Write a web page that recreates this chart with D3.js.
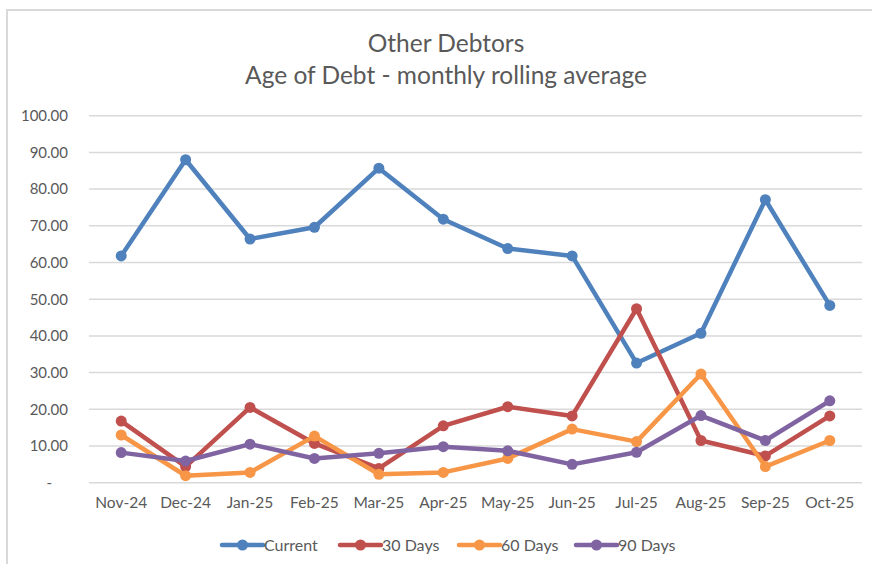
<!DOCTYPE html>
<html>
<head>
<meta charset="utf-8">
<script src="https://cdn.jsdelivr.net/npm/d3@7"></script>
<style>
    body { margin: 0; background: white; }
    svg { display: block; }
    text { font-family: Lato, "Open Sans", sans-serif; fill: #595959; }
</style>
</head>
<body>
<svg width="872" height="564"></svg>
<script>
var months = ["Nov-24", "Dec-24", "Jan-25", "Feb-25", "Mar-25", "Apr-25",
              "May-25", "Jun-25", "Jul-25", "Aug-25", "Sep-25", "Oct-25"];

var current = [61.8, 88.0, 66.4, 69.6, 85.7, 71.8, 63.8, 61.8, 32.6, 40.7, 77.1, 48.3];
var days30 = [16.8, 4.4, 20.5, 10.7, 3.9, 15.5, 20.7, 18.2, 47.4, 11.5, 7.3, 18.2];
var days60 = [13.0, 1.9, 2.8, 12.7, 2.3, 2.8, 6.6, 14.6, 11.2, 29.6, 4.4, 11.5];
var days90 = [8.2, 5.9, 10.5, 6.6, 8.0, 9.8, 8.7, 5.0, 8.3, 18.3, 11.5, 22.3];

var seriesNames = ["Current", "30 Days", "60 Days", "90 Days"];
var seriesColors = ["#4f81bd", "#c0504d", "#f79646", "#8064a2"];
var yTicks = [0, 10, 20, 30, 40, 50, 60, 70, 80, 90, 100];

var series = [current, days30, days60, days90];

var svg = d3.select("svg");

// Chart border (runs off the right and bottom of the picture)
svg.append("rect")
    .attr("x", 7)
    .attr("y", 10)
    .attr("width", 900)
    .attr("height", 600)
    .attr("fill", "none")
    .attr("stroke", "#d9d9d9")
    .attr("stroke-width", 2);

// Title
svg.append("text")
    .attr("x", 446)
    .attr("y", 52)
    .attr("text-anchor", "middle")
    .style("font-size", "24.5px")
    .text("Other Debtors");

svg.append("text")
    .attr("x", 446)
    .attr("y", 84)
    .attr("text-anchor", "middle")
    .style("font-size", "24.5px")
    .text("Age of Debt - monthly rolling average");

var xScale = d3.scaleBand().domain(months).range([89, 862]);
var yScale = d3.scaleLinear().domain([0, 100]).range([482.7, 115.7]);

// Gridlines
svg.append("g")
    .selectAll("line")
    .data(yTicks)
    .join("line")
    .attr("x1", 89)
    .attr("x2", 862)
    .attr("y1", d => yScale(d))
    .attr("y2", d => yScale(d))
    .style("stroke", "#d9d9d9")
    .style("stroke-width", 1.5);

// Y axis labels
var yAxis = d3.axisLeft(yScale)
    .tickValues(yTicks)
    .tickSize(0)
    .tickPadding(0)
    .tickFormat(d => d === 0 ? "-" : d3.format(".2f")(d));

var yG = svg.append("g")
    .attr("transform", "translate(68,0)")
    .call(yAxis);
yG.select(".domain").remove();
yG.selectAll("text")
    .style("font-size", "15px")
    .style("fill", "#595959")
    .style("font-family", "Lato, sans-serif");
yG.selectAll("text").filter(d => d === 0).attr("dx", -16);

// X axis labels
var xAxis = d3.axisBottom(xScale).tickSize(0).tickPadding(0);
var xG = svg.append("g")
    .attr("transform", "translate(0,497)")
    .call(xAxis);
xG.select(".domain").remove();
xG.selectAll("text")
    .style("font-size", "15.5px")
    .style("fill", "#595959")
    .style("font-family", "Lato, sans-serif");

var line = d3.line()
    .x((d, i) => xScale(months[i]) + xScale.bandwidth() / 2)
    .y(d => yScale(d));

series.forEach(function (values, s) {
    svg.append("path")
        .attr("d", line(values))
        .attr("fill", "none")
        .attr("stroke", seriesColors[s])
        .attr("stroke-width", 4.5)
        .attr("stroke-linejoin", "round")
        .attr("stroke-linecap", "round");

    svg.append("g")
        .selectAll("circle")
        .data(values)
        .join("circle")
        .attr("cx", (d, i) => xScale(months[i]) + xScale.bandwidth() / 2)
        .attr("cy", d => yScale(d))
        .attr("r", 5.5)
        .attr("fill", seriesColors[s]);
});

// Legend
var legendX = [222, 340, 459, 576];
var legend = svg.append("g")
    .selectAll("g")
    .data(seriesNames)
    .join("g")
    .attr("transform", (d, i) => `translate(${legendX[i]},545)`);

legend.append("line")
    .attr("x1", 0)
    .attr("x2", 41)
    .attr("y1", 0)
    .attr("y2", 0)
    .style("stroke", (d, i) => seriesColors[i])
    .style("stroke-width", 4.5)
    .style("stroke-linecap", "round");

legend.append("circle")
    .attr("cx", 20.5)
    .attr("cy", 0)
    .attr("r", 5.5)
    .attr("fill", (d, i) => seriesColors[i]);

legend.append("text")
    .attr("x", 42)
    .attr("y", 5.5)
    .style("font-size", "16px")
    .text(d => d);
</script>
</body>
</html>
